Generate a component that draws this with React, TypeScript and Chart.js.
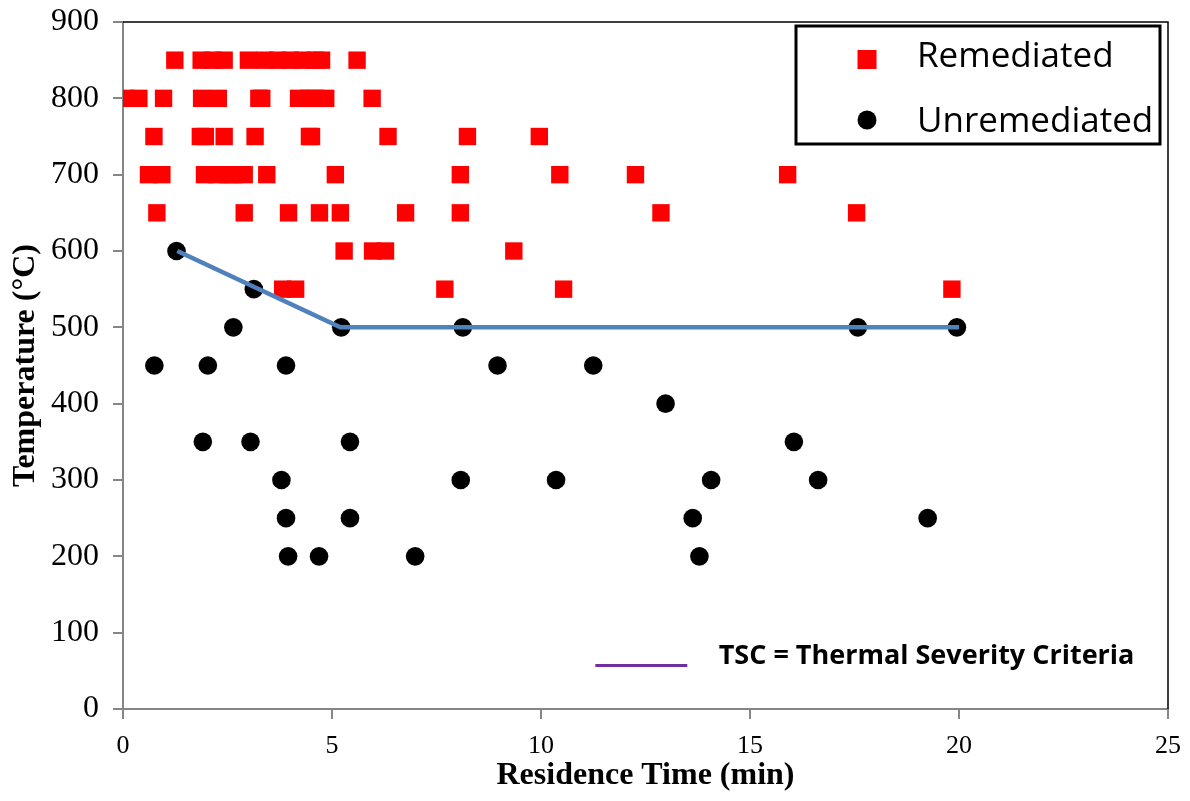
import React, { useEffect, useRef } from "react";
import { Chart, registerables } from "chart.js";

Chart.register(...registerables);

// ---- Data ----
// Remediated samples: residence time (min) and temperature (°C)
const remediatedTime = [
  1.24, 1.87, 2.15, 2.42, 3.0, 3.4, 3.7, 4.0, 4.3, 4.6, 4.75, 5.6,
  0.07, 0.38, 0.97, 1.88, 2.28, 3.25, 3.32, 4.2, 4.45, 4.6, 4.85, 5.96,
  0.74, 1.85, 1.97, 2.42, 3.16, 4.46, 4.51, 6.34, 8.24, 9.96,
  0.61, 0.93, 1.95, 2.25, 2.5, 2.65, 2.9, 3.44, 5.08, 8.07, 10.45, 12.26, 15.9,
  0.81, 2.9, 3.96, 4.7, 5.2, 6.76, 8.07, 12.87, 17.55,
  5.29, 5.97, 6.28, 9.35,
  3.82, 4.13, 7.7, 10.54, 19.83,
];
const remediatedTemp = [
  850, 850, 850, 850, 850, 850, 850, 850, 850, 850, 850, 850,
  800, 800, 800, 800, 800, 800, 800, 800, 800, 800, 800, 800,
  750, 750, 750, 750, 750, 750, 750, 750, 750, 750,
  700, 700, 700, 700, 700, 700, 700, 700, 700, 700, 700, 700, 700,
  650, 650, 650, 650, 650, 650, 650, 650, 650,
  600, 600, 600, 600,
  550, 550, 550, 550, 550,
];

// Unremediated samples
const unremediatedTime = [
  1.28,
  3.13,
  2.64, 5.22, 8.13, 17.58, 19.95,
  0.75, 2.03, 3.9, 8.96, 11.25,
  12.98,
  1.91, 3.05, 5.43, 16.05,
  3.79, 8.08, 10.36, 14.07, 16.63,
  3.9, 5.43, 13.63, 19.25,
  3.95, 4.69, 6.99, 13.79,
];
const unremediatedTemp = [
  600,
  550,
  500, 500, 500, 500, 500,
  450, 450, 450, 450, 450,
  400,
  350, 350, 350, 350,
  300, 300, 300, 300, 300,
  250, 250, 250, 250,
  200, 200, 200, 200,
];

// Thermal severity criteria line
const tscTime = [1.3, 5.2, 20];
const tscTemp = [600, 500, 500];

// Axis ticks
const xTickValues = [0, 5, 10, 15, 20, 25];
const yTickValues = [0, 100, 200, 300, 400, 500, 600, 700, 800, 900];

const seriesNames = ["Remediated", "Unremediated"];
const noteText = "TSC = Thermal Severity Criteria";
const xTitle = "Residence Time (min)";
const yTitle = "Temperature (°C)";

const RED = "#FF0000";
const BLACK = "#000000";
const BLUE = "#4F81BD";
const PURPLE = "#7030A0";
const AXIS_GRAY = "#868686";
const SERIF = "'Liberation Serif', 'Times New Roman', serif";
const SANS = "'Open Sans', 'Noto Sans', sans-serif";

const toPoints = (xs: number[], ys: number[]) => xs.map((x, i) => ({ x, y: ys[i] }));

const decorPlugin = {
  id: "decor",
  afterDraw(chart: any) {
    const { ctx, chartArea } = chart;
    const xs = chart.scales.x;
    const ys = chart.scales.y;
    ctx.save();
    // top and right frame lines
    ctx.strokeStyle = "#000";
    ctx.lineWidth = 1.5;
    ctx.beginPath();
    ctx.moveTo(chartArea.left, chartArea.top);
    ctx.lineTo(chartArea.right, chartArea.top);
    ctx.lineTo(chartArea.right, chartArea.bottom);
    ctx.stroke();

    // legend box
    const bw = 364;
    const bh = 118;
    const bx = chartArea.right - 8 - bw;
    const by = chartArea.top + 4;
    ctx.fillStyle = "#fff";
    ctx.fillRect(bx, by, bw, bh);
    ctx.strokeStyle = "#000";
    ctx.lineWidth = 3;
    ctx.strokeRect(bx, by, bw, bh);

    const markX = bx + 71;
    const textX = bx + 121;
    // Remediated entry
    ctx.fillStyle = RED;
    ctx.fillRect(markX - 9.5, by + 24, 19, 19);
    // Unremediated entry
    ctx.fillStyle = BLACK;
    ctx.beginPath();
    ctx.arc(markX, by + 94, 9.5, 0, Math.PI * 2);
    ctx.fill();

    ctx.fillStyle = "#000";
    ctx.font = `35px ${SANS}`;
    ctx.textAlign = "left";
    ctx.textBaseline = "alphabetic";
    ctx.fillText(seriesNames[0], textX, by + 41);
    ctx.fillText(seriesNames[1], textX, by + 106);

    // TSC note with purple key line
    const ly = ys.getPixelForValue(57);
    ctx.strokeStyle = PURPLE;
    ctx.lineWidth = 3;
    ctx.beginPath();
    ctx.moveTo(xs.getPixelForValue(11.3), ly);
    ctx.lineTo(xs.getPixelForValue(13.5), ly);
    ctx.stroke();
    ctx.fillStyle = "#000";
    ctx.font = `bold 27px ${SANS}`;
    ctx.fillText(noteText, xs.getPixelForValue(14.25), ys.getPixelForValue(59.5));
    ctx.restore();
  },
};

export default function App() {
  const canvasRef = useRef<HTMLCanvasElement | null>(null);

  useEffect(() => {
    if (!canvasRef.current) return;
    const chart = new Chart(canvasRef.current, {
      type: "scatter",
      data: {
        datasets: [
          {
            label: "TSC",
            type: "line",
            data: toPoints(tscTime, tscTemp),
            borderColor: BLUE,
            backgroundColor: BLUE,
            borderWidth: 4.5,
            pointRadius: 0,
            showLine: true,
            fill: false,
            tension: 0,
            order: 0,
          },
          {
            label: seriesNames[0],
            data: toPoints(remediatedTime, remediatedTemp),
            pointStyle: "rect",
            pointRadius: 12.3,
            pointHoverRadius: 12.3,
            backgroundColor: RED,
            borderWidth: 0,
            order: 2,
          },
          {
            label: seriesNames[1],
            data: toPoints(unremediatedTime, unremediatedTemp),
            pointStyle: "circle",
            pointRadius: 9.3,
            pointHoverRadius: 9.3,
            backgroundColor: BLACK,
            borderWidth: 0,
            order: 1,
          },
        ],
      },
      options: {
        animation: false,
        responsive: false,
        devicePixelRatio: 1,
        layout: { padding: { top: 22, right: 22, left: 0, bottom: 0 } },
        plugins: {
          legend: { display: false },
          tooltip: { enabled: false },
        },
        scales: {
          x: {
            type: "linear",
            min: 0,
            max: 25,
            afterFit: (s: any) => {
              s.height = 92;
              s.paddingLeft = 0;
              s.paddingRight = 0;
            },
            afterBuildTicks: (s: any) => {
              s.ticks = xTickValues.map((v) => ({ value: v }));
            },
            ticks: {
              color: "#000",
              padding: 12,
              font: { family: SERIF, size: 26 },
            },
            grid: {
              display: true,
              drawOnChartArea: false,
              drawTicks: true,
              tickLength: 10,
              color: AXIS_GRAY,
              lineWidth: 2,
            },
            border: { display: true, color: AXIS_GRAY, width: 2 },
            title: {
              display: true,
              text: xTitle,
              color: "#000",
              font: { family: SERIF, size: 32, weight: "bold" },
              padding: { top: 0, bottom: 6 },
            },
          },
          y: {
            type: "linear",
            min: 0,
            max: 900,
            afterFit: (s: any) => {
              s.width = 123;
              s.paddingTop = 0;
              s.paddingBottom = 0;
            },
            afterBuildTicks: (s: any) => {
              s.ticks = yTickValues.map((v) => ({ value: v }));
            },
            ticks: {
              color: "#000",
              padding: 14,
              font: { family: SERIF, size: 32 },
            },
            grid: {
              display: true,
              drawOnChartArea: false,
              drawTicks: true,
              tickLength: 10,
              color: AXIS_GRAY,
              lineWidth: 2,
            },
            border: { display: true, color: AXIS_GRAY, width: 2 },
            title: {
              display: true,
              text: yTitle,
              color: "#000",
              font: { family: SERIF, size: 32, weight: "bold" },
              padding: { top: 7, bottom: 0 },
            },
          },
        },
      },
      plugins: [decorPlugin],
    });
    return () => chart.destroy();
  }, []);

  return (
    <div style={{ position: "fixed", left: 0, top: 0, width: 1190, height: 801, background: "#fff" }}>
      <canvas ref={canvasRef} width={1190} height={801} />
    </div>
  );
}
